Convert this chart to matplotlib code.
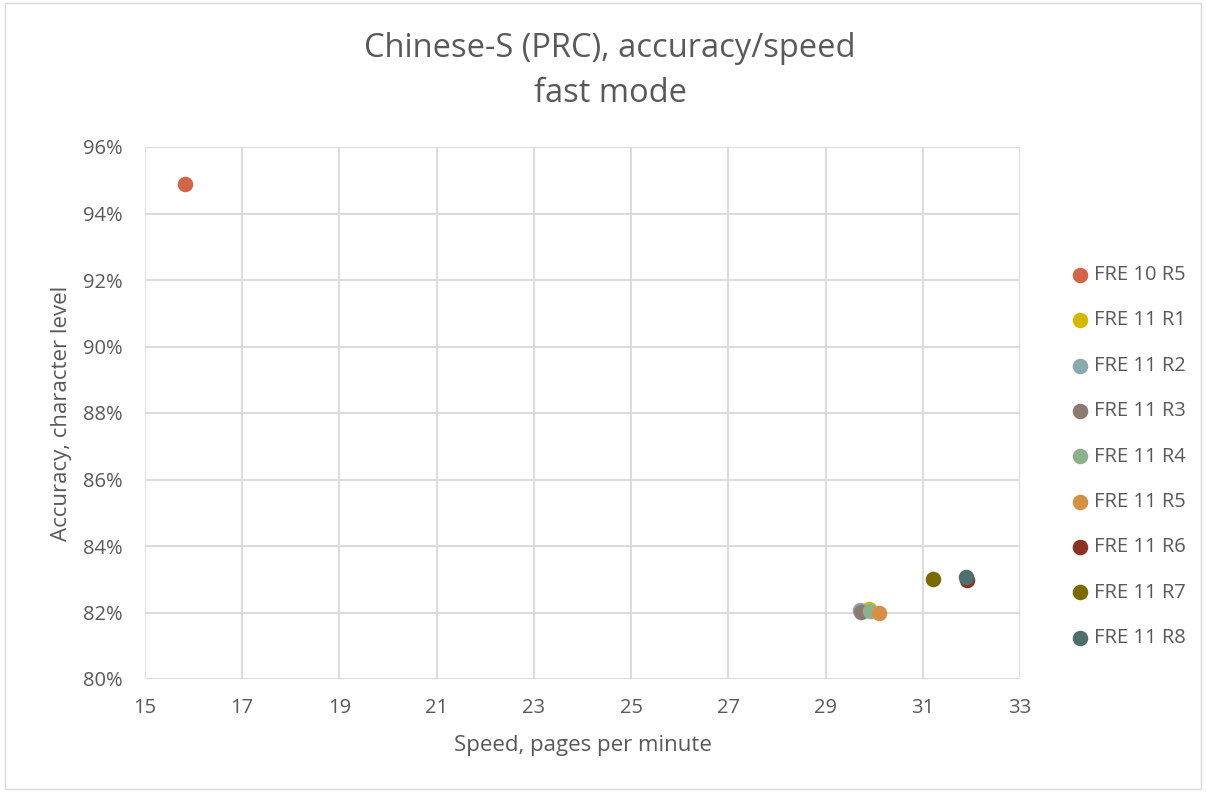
import matplotlib.pyplot as plt
from matplotlib.ticker import FuncFormatter

# Data
series_names = ["FRE 10 R5", "FRE 11 R1", "FRE 11 R2", "FRE 11 R3", "FRE 11 R4",
                "FRE 11 R5", "FRE 11 R6", "FRE 11 R7", "FRE 11 R8"]
speed = [15.82, 29.90, 29.70, 29.73, 29.92, 30.09, 31.91, 31.21, 31.89]
accuracy = [94.89, 82.12, 82.08, 82.02, 82.04, 82.00, 82.98, 83.00, 83.07]
colors = ["#d2654a", "#d4b800", "#8aabad", "#8c7b70", "#8fb08c",
          "#d59046", "#8a3223", "#7a6a00", "#4e6e6f"]

x_ticks = [15, 17, 19, 21, 23, 25, 27, 29, 31, 33]
y_ticks = [80, 82, 84, 86, 88, 90, 92, 94, 96]

plt.rcParams['font.family'] = ['Open Sans', 'DejaVu Sans']
text_color = '#595959'
grid_color = '#d9d9d9'

fig = plt.figure(figsize=(12.06, 7.92), dpi=100)
ax = fig.add_axes([145 / 1206, 1 - 679 / 792, 875 / 1206, 532 / 792])

for name, x, y, c in zip(series_names, speed, accuracy, colors):
    ax.scatter([x], [y], s=125, color=c, label=name, zorder=3, linewidths=0)

ax.set_xlim(15, 33)
ax.set_ylim(80, 96)
ax.set_xticks(x_ticks)
ax.set_yticks(y_ticks)
ax.yaxis.set_major_formatter(FuncFormatter(lambda v, p: f"{v:.0f}%"))
ax.grid(True, color=grid_color, linewidth=1.3)
ax.set_axisbelow(True)
for s in ax.spines.values():
    s.set_visible(False)
ax.tick_params(length=0, colors=text_color, labelsize=14.5)
ax.tick_params(axis='x', pad=14)
ax.tick_params(axis='y', pad=16)

ax.set_xlabel("Speed, pages per minute", color=text_color, fontsize=16, labelpad=12)
ax.set_ylabel("Accuracy, character level", color=text_color, fontsize=16, labelpad=8)

fig.text(0.506, 1 - 71 / 792, "Chinese-S (PRC), accuracy/speed\nfast mode",
         ha='center', va='center', color=text_color, fontsize=23.5, linespacing=1.45)

leg = ax.legend(loc='center left', bbox_to_anchor=(1.045, 0.418), frameon=False,
                fontsize=14.5, labelspacing=1.26, handletextpad=0.1,
                handlelength=1.2, borderaxespad=0)
for t in leg.get_texts():
    t.set_color(text_color)

# light border around the chart area
fig.patches.append(plt.Rectangle((0.004, 0.004), 0.992, 0.992, transform=fig.transFigure,
                                 fill=False, edgecolor=grid_color, linewidth=1))

fig.savefig("out.png", dpi=100)
